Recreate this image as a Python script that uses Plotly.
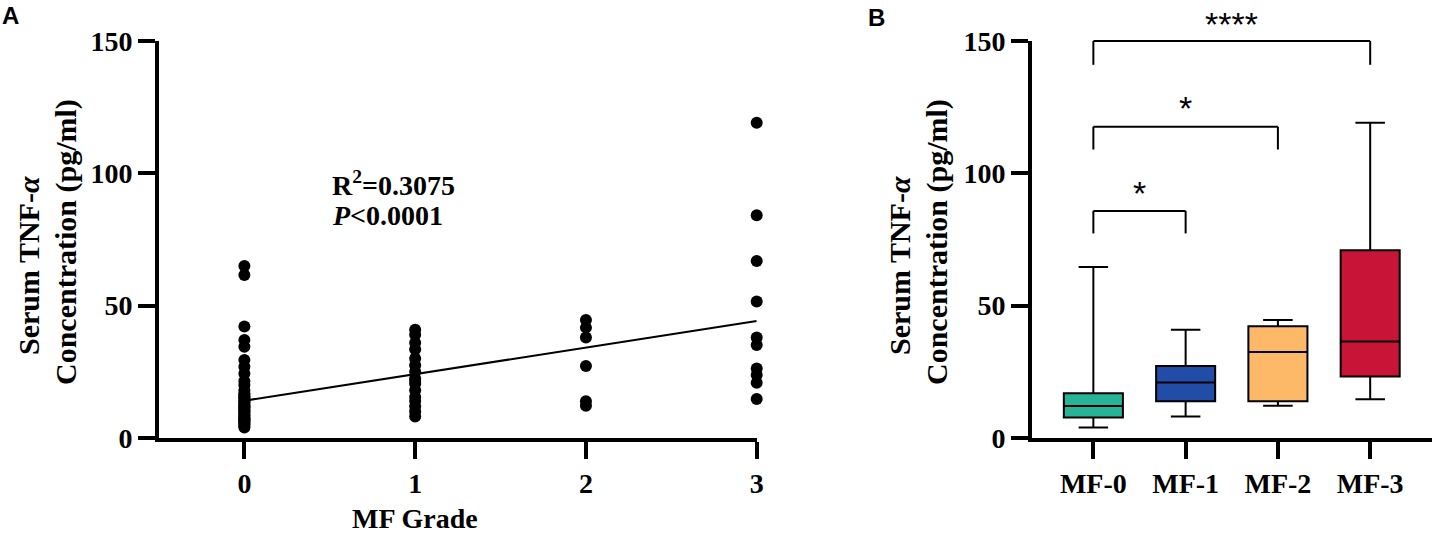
import plotly.graph_objects as go

# panel A: individual values per MF grade
grades = [0, 1, 2, 3]
mf0_vals = [4.0, 4.5, 5.0, 5.5, 6.0, 6.3, 6.8, 7.0, 7.3, 7.6,
            8.0, 8.5, 9.0, 9.5, 10.0, 10.5, 11.0, 11.3, 11.7, 12.0,
            12.3, 12.8, 13.3, 13.8, 14.3, 14.8, 15.3, 15.8, 16.3, 16.8,
            18.0, 20.0, 21.5, 24.4, 26.9, 29.5, 34.5, 37.0, 42.1, 61.6, 65.0]
mf1_vals = [40.9, 39.0, 36.0, 33.5, 30.0, 27.5, 25.0, 22.5, 21.5, 20.5,
            18.0, 15.5, 14.0, 12.0, 10.0, 8.1]
mf2_vals = [44.6, 41.7, 38.0, 27.2, 13.9, 12.2]
mf3_vals = [119.1, 84.2, 66.9, 51.6, 38.0, 35.1, 26.3, 23.8, 20.9, 14.7]
fit_x = [0, 3]
fit_y = [14.1, 44.2]

# panel B: box summaries
groups = ["MF-0", "MF-1", "MF-2", "MF-3"]
box_low = [4.0, 8.1, 12.2, 14.6]
box_q1 = [7.7, 13.9, 13.9, 23.2]
box_median = [12.1, 21.0, 32.5, 36.5]
box_q3 = [16.9, 27.2, 42.2, 70.9]
box_high = [64.6, 40.9, 44.6, 119.1]
box_colors = ["#27b496", "#214ca8", "#fdb968", "#c81537"]

# significance brackets (group index pairs)
br_from = [0, 0, 0]
br_to = [1, 2, 3]
br_top = [85.8, 117.6, 150.0]
br_end = [77.3, 109.0, 141.0]
br_label = ["*", "*", "****"]
br_label_y = [92.7, 124.5, 156.6]

W, H = 1437, 541
SERIF = "Liberation Serif"
SANS = "Liberation Sans"


def px(x):
    return x / W


def py(y):
    return 1 - y / H


ydom = [py(438), py(41)]
xr_a = [-0.5, 3.0]
xr_b = [-0.665, 3.67]

fig = go.Figure()

all_vals = [mf0_vals, mf1_vals, mf2_vals, mf3_vals]
sx, sy = [], []
for g, vals in zip(grades, all_vals):
    sx += [g] * len(vals)
    sy += vals

fig.add_trace(go.Scatter(
    x=fit_x, y=fit_y, mode="lines",
    line=dict(color="black", width=2),
    xaxis="x", yaxis="y", hoverinfo="skip"))
fig.add_trace(go.Scatter(
    x=sx, y=sy, mode="markers",
    marker=dict(color="black", size=12),
    cliponaxis=False, xaxis="x", yaxis="y"))

for i, g in enumerate(groups):
    fig.add_trace(go.Box(
        x=[g], q1=[box_q1[i]], median=[box_median[i]], q3=[box_q3[i]],
        lowerfence=[box_low[i]], upperfence=[box_high[i]],
        fillcolor=box_colors[i], line=dict(color="black", width=2),
        width=0.64, whiskerwidth=0.5, boxpoints=False,
        xaxis="x2", yaxis="y2"))

tickfont = dict(family=SERIF, size=28, color="black", weight="bold")
axis_common = dict(showline=True, linewidth=4, linecolor="black",
                   ticks="outside", ticklen=17, tickwidth=4, tickcolor="black",
                   showgrid=False, zeroline=False, tickfont=tickfont,
                   automargin=False, fixedrange=True)

fig.update_layout(
    width=W, height=H,
    margin=dict(l=0, r=0, t=0, b=0, pad=0, autoexpand=False),
    paper_bgcolor="white", plot_bgcolor="white",
    showlegend=False,
    xaxis=dict(domain=[px(159), px(756.7)], range=xr_a,
               tickvals=grades, anchor="y", **axis_common),
    yaxis=dict(domain=ydom, range=[0, 150], tickvals=[0, 50, 100, 150],
               anchor="x", **axis_common),
    xaxis2=dict(domain=[px(1032), px(1432)], range=xr_b, type="category",
                categoryorder="array", categoryarray=groups,
                anchor="y2", **axis_common),
    yaxis2=dict(domain=ydom, range=[0, 150], tickvals=[0, 50, 100, 150],
                anchor="x2", **axis_common),
)

# brackets drawn in axis-domain units so the top one is not clipped
shapes = []
for a, b, top, end in zip(br_from, br_to, br_top, br_end):
    xa = (a - xr_b[0]) / (xr_b[1] - xr_b[0])
    xb = (b - xr_b[0]) / (xr_b[1] - xr_b[0])
    yt = top / 150
    ye = end / 150
    line = dict(color="black", width=2)
    for x0, y0, x1, y1 in [(xa, ye, xa, yt), (xa, yt, xb, yt), (xb, yt, xb, ye)]:
        shapes.append(dict(type="line", xref="x2 domain", yref="y2 domain",
                           x0=x0, y0=y0, x1=x1, y1=y1, line=line))
fig.update_layout(shapes=shapes)

annotations = []
for a, b, lab, ly in zip(br_from, br_to, br_label, br_label_y):
    xm = ((a + b) / 2 - xr_b[0]) / (xr_b[1] - xr_b[0])
    annotations.append(dict(x=xm, y=ly / 150, xref="x2 domain", yref="y2 domain",
                            text=lab, showarrow=False,
                            xanchor="center", yanchor="middle",
                            font=dict(family=SANS, size=34, color="black")))

textfont = dict(family=SERIF, size=28, color="black", weight="bold")
titlefont = dict(family=SERIF, size=30, color="black", weight="bold")
annotations += [
    dict(x=0.5, y=96.3, xref="x", yref="y", text="R<sup>2</sup>=0.3075",
         showarrow=False, xanchor="left", yanchor="middle", font=textfont),
    dict(x=0.5, y=84.2, xref="x", yref="y", text="<i>P</i>&lt;0.0001",
         showarrow=False, xanchor="left", yanchor="middle", font=textfont),
    dict(x=1, y=py(518), xref="x", yref="paper", text="MF Grade",
         showarrow=False, xanchor="center", yanchor="middle", font=textfont),
]
# (x centre, y centre, text) of the rotated y-axis titles
y_titles = [(28, 266, "Serum TNF-<i>α</i>"), (66, 242, "Concentration (pg/ml)"),
            (899, 266, "Serum TNF-<i>α</i>"), (937, 242, "Concentration (pg/ml)")]
for xc, yc, txt in y_titles:
    annotations.append(dict(x=px(xc), y=py(yc), xref="paper", yref="paper",
                            text=txt, textangle=-90, showarrow=False,
                            xanchor="center", yanchor="middle", font=titlefont))
annotations += [
    dict(x=px(0), y=py(0), xref="paper", yref="paper", text="A",
         showarrow=False, xanchor="left", yanchor="top",
         font=dict(family=SANS, size=24, color="black", weight="bold")),
    dict(x=px(866), y=py(2), xref="paper", yref="paper", text="B",
         showarrow=False, xanchor="left", yanchor="top",
         font=dict(family=SANS, size=24, color="black", weight="bold")),
]
fig.update_layout(annotations=annotations)

# drop the default page margin so the figure sits at the window corner
fig.write_html("out.html", config={"displayModeBar": False},
               post_script="document.body.style.margin='0px';")
